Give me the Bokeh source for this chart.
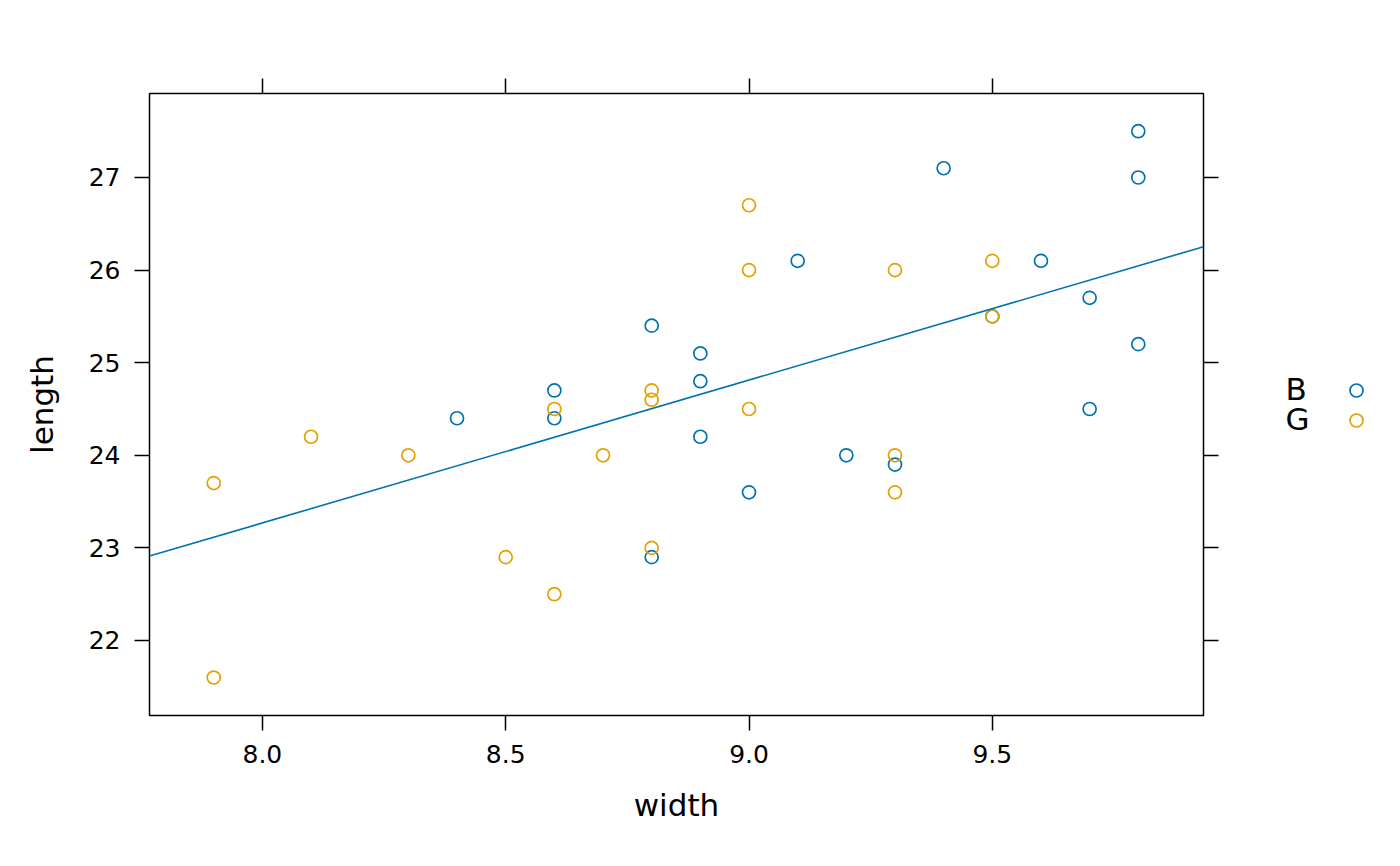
import numpy as np
from bokeh.plotting import figure
from bokeh.models import Range1d, FixedTicker, LinearAxis, PrintfTickFormatter
from bokeh.layouts import row
from bokeh.core.properties import value
from bokeh.embed import file_html
from bokeh.resources import INLINE

# ---- data (kidsfeet) ----
boys_width = [8.4, 8.6, 8.6, 8.8, 8.8, 8.9, 8.9, 8.9, 9.0, 9.1,
              9.2, 9.3, 9.4, 9.5, 9.6, 9.7, 9.7, 9.8, 9.8, 9.8]
boys_length = [24.4, 24.7, 24.4, 25.4, 22.9, 25.1, 24.8, 24.2, 23.6, 26.1,
               24.0, 23.9, 27.1, 25.5, 26.1, 25.7, 24.5, 27.5, 27.0, 25.2]
girls_width = [7.9, 7.9, 8.1, 8.3, 8.5, 8.6, 8.6, 8.7, 8.8, 8.8,
               8.8, 9.0, 9.0, 9.0, 9.3, 9.3, 9.3, 9.5, 9.5]
girls_length = [23.7, 21.6, 24.2, 24.0, 22.9, 24.5, 22.5, 24.0, 24.7, 24.6,
                23.0, 26.7, 26.0, 24.5, 26.0, 24.0, 23.6, 26.1, 25.5]
groups = ["B", "G"]
x_ticks = [8.0, 8.5, 9.0, 9.5]
y_ticks = [22, 23, 24, 25, 26, 27]

BLUE = "#0072B2"
ORANGE = "#E69F00"
FONT = "DejaVu Sans"

X0, X1 = 7.768, 9.934
Y0, Y1 = 21.19, 27.907

H = 860
p = figure(width=1250, height=H, output_backend="svg", toolbar_location=None,
           x_range=Range1d(X0, X1), y_range=Range1d(Y0, Y1),
           min_border_left=149, min_border_right=47, min_border_top=93,
           min_border_bottom=H - 715, x_axis_label="width", y_axis_label="length")
p.grid.visible = False
p.outline_line_color = "black"
p.outline_line_width = 1.5
p.background_fill_color = "white"
p.border_fill_color = "white"

p.xaxis.ticker = FixedTicker(ticks=x_ticks)
p.xaxis.formatter = PrintfTickFormatter(format="%.1f")
p.yaxis.ticker = FixedTicker(ticks=y_ticks)
for ax in (p.xaxis[0], p.yaxis[0]):
    ax.axis_line_color = None
    ax.major_tick_in = 0
    ax.major_tick_out = 15
    ax.major_tick_line_color = "black"
    ax.major_tick_line_width = 1.5
    ax.minor_tick_line_color = None
    ax.major_label_text_font = FONT
    ax.major_label_text_font_size = "25px"
    ax.major_label_text_color = "black"
    ax.axis_label_text_font = FONT
    ax.axis_label_text_font_size = "31px"
    ax.axis_label_text_font_style = "normal"
    ax.axis_label_text_color = "black"
p.xaxis.major_label_standoff = 14
p.xaxis.axis_label_standoff = 21
p.yaxis.major_label_standoff = 14
p.yaxis.axis_label_standoff = 26

# tick-only axes on top and right (minor ticks used so no labels are drawn)
top = LinearAxis(ticker=FixedTicker(ticks=[], minor_ticks=x_ticks))
right = LinearAxis(ticker=FixedTicker(ticks=[], minor_ticks=y_ticks))
for ax in (top, right):
    ax.axis_line_color = None
    ax.major_tick_line_color = None
    ax.minor_tick_in = 0
    ax.minor_tick_out = 15
    ax.minor_tick_line_color = "black"
    ax.minor_tick_line_width = 1.5
    ax.major_label_text_font_size = "0px"
p.add_layout(top, "above")
p.add_layout(right, "right")

p.scatter(boys_width, boys_length, marker="circle", size=13, fill_color=None,
          line_color=BLUE, line_width=1.7)
p.scatter(girls_width, girls_length, marker="circle", size=13, fill_color=None,
          line_color=ORANGE, line_width=1.7)

slope, intercept = np.polyfit(boys_width, boys_length, 1)
lx = [X0, X1]
ly = [intercept + slope * v for v in lx]
p.line(lx, ly, line_color=BLUE, line_width=1.6)

# ---- legend panel (its frame is aligned with the main frame: 93..715 px) ----
lg = figure(width=146, height=H, output_backend="svg", toolbar_location=None,
            x_range=Range1d(0, 146), y_range=Range1d(715, 93),
            min_border=0, x_axis_location=None, y_axis_location=None)
lg.grid.visible = False
lg.outline_line_color = None
lg.background_fill_color = "white"
lg.border_fill_color = "white"
key_pos = [390, 420]
label_pos = [388, 418]
lg.text([35, 35], label_pos, text=groups, text_font=value(FONT), text_font_size="31px",
        text_align="left", text_baseline="middle", text_color="black")
lg.scatter([106, 106], key_pos, marker="circle", size=13, fill_color=None,
           line_color=[BLUE, ORANGE], line_width=1.7)

layout = row(p, lg)
open("out.html", "w").write(file_html(layout, INLINE))
